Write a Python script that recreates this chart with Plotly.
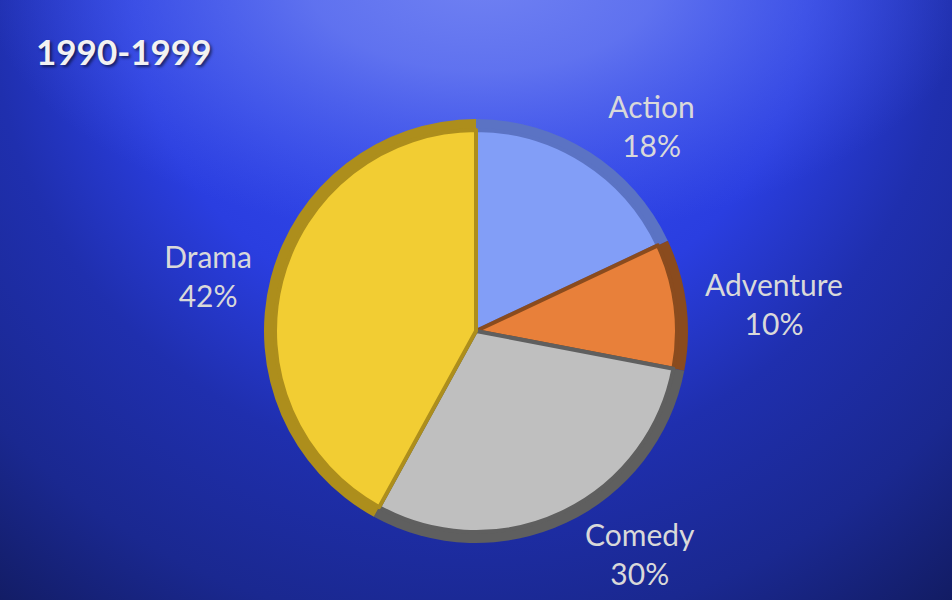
import base64
import plotly.graph_objects as go

# ---- data ----
genres = ["Action", "Adventure", "Comedy", "Drama"]
shares = [18, 10, 30, 42]
face_colors = ["#829ef7", "#e8803a", "#bfbfbf", "#f2cd33"]
edge_colors = ["#5b73c4", "#8a4b1e", "#5f5f5f", "#ad8e1c"]
title_text = "1990-1999"

W, H = 952, 600

# radial gradient background as inline SVG
svg = f'''<svg xmlns="http://www.w3.org/2000/svg" width="{W}" height="{H}">
<defs>
<radialGradient id="g" gradientUnits="userSpaceOnUse" cx="470" cy="-10" r="800">
<stop offset="0" stop-color="#3a4eea"/>
<stop offset="0.30" stop-color="#2f44e6"/>
<stop offset="0.42" stop-color="#2a3ee0"/>
<stop offset="0.60" stop-color="#1f2fae"/>
<stop offset="0.80" stop-color="#1a2890"/>
<stop offset="1" stop-color="#111a5c"/>
</radialGradient>
<radialGradient id="s" gradientUnits="userSpaceOnUse" cx="0" cy="0" r="1"
 gradientTransform="translate(483,-20) scale(500,260)">
<stop offset="0" stop-color="#7081f2" stop-opacity="1"/>
<stop offset="0.35" stop-color="#6a7cf1" stop-opacity="0.8"/>
<stop offset="0.65" stop-color="#5a6eef" stop-opacity="0.45"/>
<stop offset="1" stop-color="#4a5eec" stop-opacity="0"/>
</radialGradient>
</defs>
<rect width="{W}" height="{H}" fill="url(#g)"/>
<rect width="{W}" height="{H}" fill="url(#s)"/></svg>'''
bg_uri = "data:image/svg+xml;base64," + base64.b64encode(svg.encode()).decode()

cx, cy, r_out, r_in = 476, 331, 212, 201

def dom(r):
    return dict(x=[(cx - r) / W, (cx + r) / W],
                y=[1 - (cy + r) / H, 1 - (cy - r) / H])

fig = go.Figure()
fig.add_trace(go.Pie(
    labels=genres, values=shares, sort=False, direction="clockwise", rotation=0,
    marker=dict(colors=edge_colors, line=dict(width=0)),
    textposition="outside", texttemplate="%{label}<br>%{percent:.0%}",
    textfont=dict(family="Lato", size=30, color="#d9d9d9"),
    domain=dom(r_out), showlegend=False, hoverinfo="label+percent",
))
fig.add_trace(go.Pie(
    labels=genres, values=shares, sort=False, direction="clockwise", rotation=0,
    marker=dict(colors=face_colors, line=dict(width=4, color=edge_colors)),
    textinfo="none", domain=dom(r_in), showlegend=False, hoverinfo="label+percent",
))

fig.update_layout(
    width=W, height=H, margin=dict(l=0, r=0, t=0, b=0),
    paper_bgcolor="#2a3ee2", plot_bgcolor="rgba(0,0,0,0)",
    images=[dict(source=bg_uri, xref="paper", yref="paper", x=0, y=1,
                 sizex=1, sizey=1, sizing="stretch", layer="below",
                 xanchor="left", yanchor="top")],
    annotations=[dict(text=f"<b>{title_text}</b>", xref="paper", yref="paper",
                      x=34 / W, y=1 - 51 / H, xanchor="left", yanchor="middle",
                      showarrow=False,
                      font=dict(family="Lato", size=35, color="#f2f2f2",
                                shadow="2px 2px 3px rgba(0,0,0,0.55)"))],
)

fig.write_html("out.html")
